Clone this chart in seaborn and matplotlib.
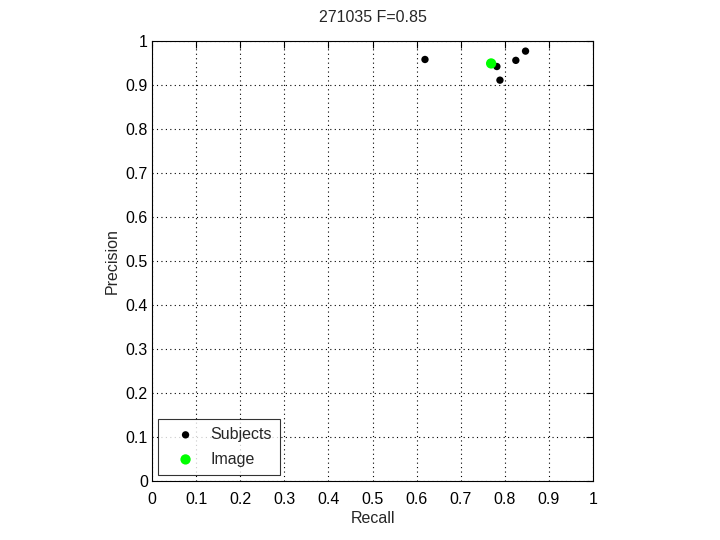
import numpy as np
import pandas as pd
from matplotlib import pyplot as plt
import seaborn as sns

# values
subject_recall = [0.619, 0.782, 0.789, 0.825, 0.847]
subject_precision = [0.958, 0.942, 0.911, 0.956, 0.977]
image_recall = [0.769]
image_precision = [0.949]
ticks = [0, 0.1, 0.2, 0.3, 0.4, 0.5, 0.6, 0.7, 0.8, 0.9, 1]
tick_labels = ["0", "0.1", "0.2", "0.3", "0.4", "0.5", "0.6", "0.7", "0.8", "0.9", "1"]

df = pd.DataFrame({
    "Recall": subject_recall + image_recall,
    "Precision": subject_precision + image_precision,
    "kind": ["Subjects"] * len(subject_recall) + ["Image"] * len(image_recall),
})

sns.set_style("white")
plt.rcParams['font.family'] = ['Liberation Sans', 'DejaVu Sans']
fs = 11.5

fig = plt.figure(figsize=(7.2, 5.4), dpi=100)
ax = fig.add_axes([152 / 720, 59 / 540, 441 / 720, 440 / 540])

subj = df[df["kind"] == "Subjects"]
img = df[df["kind"] == "Image"]
sns.scatterplot(data=subj, x="Recall", y="Precision", color="black", s=28,
                edgecolor="none", ax=ax, label="Subjects", zorder=3)
sns.scatterplot(data=img, x="Recall", y="Precision", color="#00ff00", s=55,
                edgecolor="none", ax=ax, label="Image", zorder=3)

ax.set_xlim(0, 1)
ax.set_ylim(0, 1)
ax.set_xticks(ticks)
ax.set_xticklabels(tick_labels)
ax.set_yticks(ticks)
ax.set_yticklabels(tick_labels)
ax.grid(True, color="black", linestyle=(0, (1, 3)), linewidth=0.8)
ax.tick_params(direction="in", length=5, top=True, right=True, width=0.8,
               colors="black", labelsize=fs)
ax.tick_params(axis="x", pad=8)
ax.tick_params(axis="y", pad=3)
for s in ax.spines.values():
    s.set_color("black")
    s.set_linewidth(0.8)
ax.set_xlabel("Recall", fontsize=fs, labelpad=3)
ax.set_ylabel("Precision", fontsize=fs, labelpad=4)
ax.set_title("271035 F=0.85", fontsize=fs, pad=14)

leg = ax.legend(loc="lower left", frameon=True, fancybox=False, fontsize=fs,
                edgecolor="black", borderaxespad=0.4, handletextpad=0.35,
                handlelength=2.4, borderpad=0.5, labelspacing=0.6)
leg.get_frame().set_linewidth(0.8)

fig.savefig("out.png", dpi=100)
